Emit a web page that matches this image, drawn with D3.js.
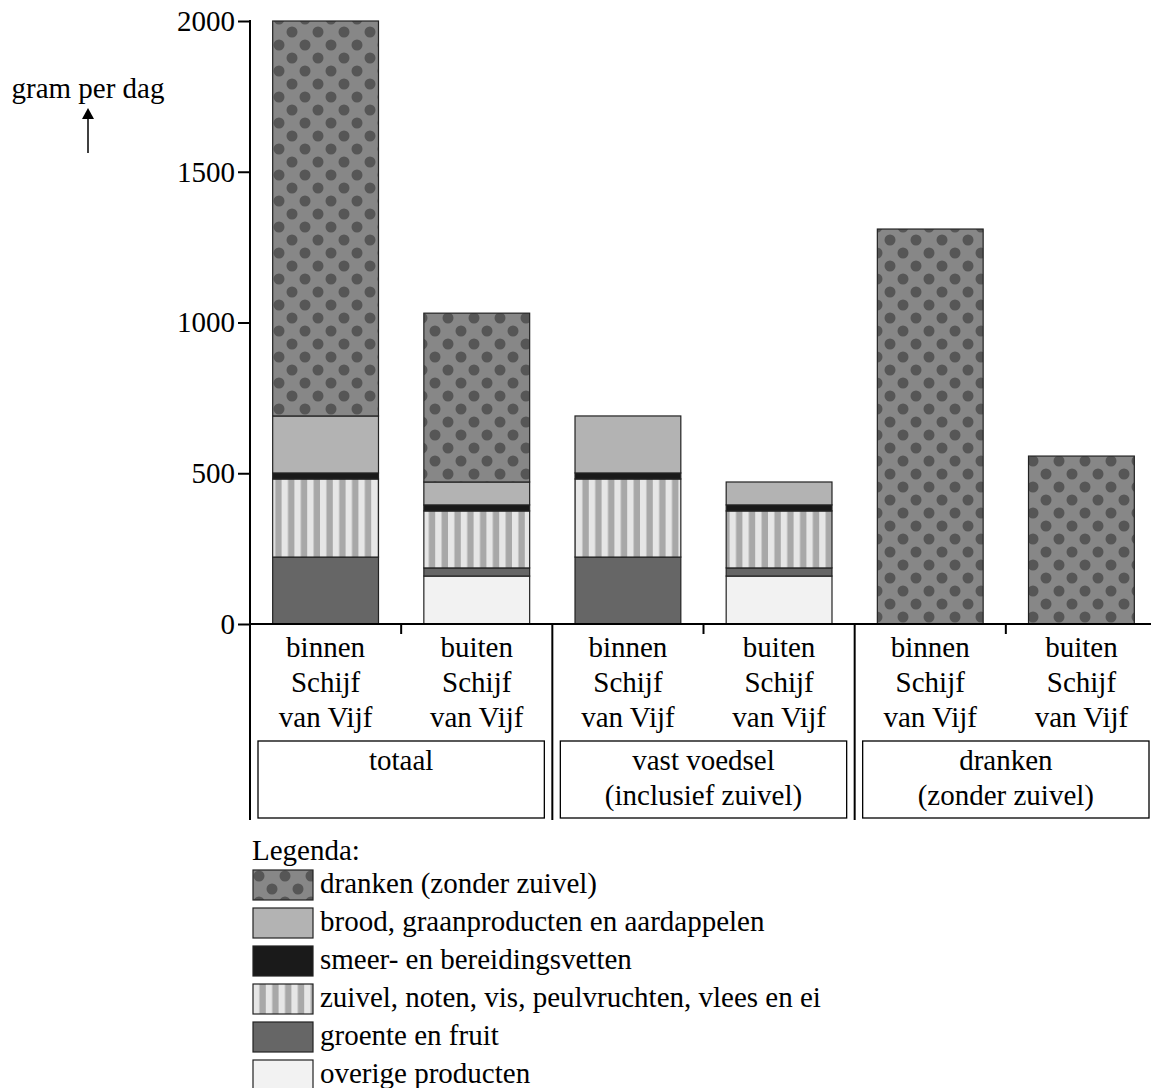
<!DOCTYPE html>
<html><head><meta charset="utf-8">
<script src="https://cdn.jsdelivr.net/npm/d3@7"></script>
<style>body{margin:0;background:#fff} svg text{font-family:'Liberation Serif','Times New Roman',serif}</style>
</head><body><div id="chart"></div>
<script>
'use strict';

// bars, left to right
const bars = ['b1', 'b2', 'b3', 'b4', 'b5', 'b6'];
const barLabels = [['binnen', 'Schijf', 'van Vijf'], ['buiten', 'Schijf', 'van Vijf']];
const groups = [['totaal'], ['vast voedsel', '(inclusief zuivel)'], ['dranken', '(zonder zuivel)']];

// stack order from bottom up
const keys = ['overige', 'groente', 'zuivel', 'vetten', 'brood', 'dranken'];
const overige = [0, 159, 0, 159, 0, 0];
const groente = [222, 27, 222, 27, 0, 0];
const zuivel = [259, 189, 259, 189, 0, 0];
const vetten = [20, 20, 20, 20, 0, 0];
const brood = [189, 76, 189, 76, 0, 0];
const dranken = [1310, 560, 0, 0, 1310, 557];

const yTicks = [0, 500, 1000, 1500, 2000];

const legendItems = [
    ['dranken', 'dranken (zonder zuivel)'],
    ['brood', 'brood, graanproducten en aardappelen'],
    ['vetten', 'smeer- en bereidingsvetten'],
    ['zuivel', 'zuivel, noten, vis, peulvruchten, vlees en ei'],
    ['groente', 'groente en fruit'],
    ['overige', 'overige producten']
];

const series = { overige, groente, zuivel, vetten, brood, dranken };
const table = bars.map((b, i) => {
    const row = { bar: b };
    keys.forEach(k => row[k] = series[k][i]);
    return row;
});

const width = 1151, height = 1088;
const fs = '29px';
const svg = d3.select('#chart').append('svg')
    .attr('width', width).attr('height', height);

const defs = svg.append('defs');
const dots = defs.append('pattern').attr('id', 'dots')
    .attr('patternUnits', 'userSpaceOnUse').attr('width', 26).attr('height', 26);
dots.append('rect').attr('width', 26).attr('height', 26).attr('fill', '#878787');
dots.append('circle').attr('cx', 6).attr('cy', 6).attr('r', 5.5).attr('fill', '#565656');
dots.append('circle').attr('cx', 19).attr('cy', 19).attr('r', 5.5).attr('fill', '#565656');
const stripes = defs.append('pattern').attr('id', 'stripes')
    .attr('patternUnits', 'userSpaceOnUse').attr('width', 12.8).attr('height', 10);
stripes.append('rect').attr('width', 12.8).attr('height', 10).attr('fill', '#e6e6e6');
stripes.append('rect').attr('x', 6.4).attr('width', 6.4).attr('height', 10).attr('fill', '#a8a8a8');

const fills = {
    overige: '#f2f2f2', groente: '#666666', zuivel: 'url(#stripes)',
    vetten: '#1a1a1a', brood: '#b3b3b3', dranken: 'url(#dots)'
};

const x = d3.scaleBand().domain(bars).range([250, 1157]).paddingInner(0.3).paddingOuter(0.15);
const y = d3.scaleLinear().domain([0, 2000]).range([624, 21]);

const stacked = d3.stack().keys(keys)(table);
svg.append('g').selectAll('g').data(stacked).join('g')
    .attr('fill', d => fills[d.key])
    .selectAll('rect').data(d => d).join('rect')
    .filter(d => d[1] > d[0])
    .attr('x', d => x(d.data.bar))
    .attr('width', x.bandwidth())
    .attr('y', d => y(d[1]))
    .attr('height', d => y(d[0]) - y(d[1]))
    .attr('stroke', '#222').attr('stroke-width', 1.2);

// y axis
const yAxis = svg.append('g').attr('transform', 'translate(250,0)')
    .call(d3.axisLeft(y).tickValues(yTicks).tickFormat(d3.format('d')).tickSize(12).tickPadding(3));
yAxis.select('.domain').remove();
yAxis.selectAll('line').attr('stroke', '#000').attr('stroke-width', 2);
yAxis.selectAll('text').style('font-size', fs).style('font-family', null).attr('fill', '#000');
svg.append('line').attr('x1', 250).attr('x2', 250).attr('y1', 20).attr('y2', 820)
    .attr('stroke', '#000').attr('stroke-width', 2);
svg.append('line').attr('x1', 250).attr('x2', 1151).attr('y1', 624).attr('y2', 624)
    .attr('stroke', '#000').attr('stroke-width', 2);

svg.append('text').attr('x', 88).attr('y', 98).attr('text-anchor', 'middle')
    .style('font-size', fs).text('gram per dag');
svg.append('line').attr('x1', 88).attr('x2', 88).attr('y1', 153).attr('y2', 114)
    .attr('stroke', '#000').attr('stroke-width', 1.5);
svg.append('path').attr('d', 'M82,119 L88,108 L94,119 Z').attr('fill', '#000');

// bar labels and separators
const step = x.step();
bars.forEach((b, i) => {
    const cx = x(b) + x.bandwidth() / 2;
    svg.append('text').attr('text-anchor', 'middle').style('font-size', fs)
        .selectAll('tspan').data(barLabels[i % 2]).join('tspan')
        .attr('x', cx).attr('y', (d, j) => 657 + j * 35).text(d => d);
    const sx = x(b) + x.bandwidth() + (step - x.bandwidth()) / 2;
    if (i % 2 === 0) {
        svg.append('line').attr('x1', sx).attr('x2', sx).attr('y1', 624).attr('y2', 634)
            .attr('stroke', '#000').attr('stroke-width', 2);
    } else if (i < bars.length - 1) {
        svg.append('line').attr('x1', sx).attr('x2', sx).attr('y1', 624).attr('y2', 820)
            .attr('stroke', '#000').attr('stroke-width', 2);
    }
});

// group boxes
groups.forEach((g, i) => {
    const left = x(bars[i * 2]) - (step - x.bandwidth()) / 2;
    const x0 = i === 0 ? 258 : left + 8;
    const x1 = left + 2 * step - 8;
    svg.append('rect').attr('x', x0).attr('y', 741).attr('width', x1 - x0).attr('height', 77)
        .attr('fill', 'none').attr('stroke', '#000').attr('stroke-width', 1.3);
    svg.append('text').attr('text-anchor', 'middle').style('font-size', fs)
        .selectAll('tspan').data(g).join('tspan')
        .attr('x', (x0 + x1) / 2).attr('y', (d, j) => 770 + j * 35).text(d => d);
});

// legend
svg.append('text').attr('x', 252).attr('y', 860).style('font-size', fs).text('Legenda:');
const lg = svg.append('g').selectAll('g').data(legendItems).join('g')
    .attr('transform', (d, i) => `translate(253,${870 + i * 38})`);
lg.append('rect').attr('width', 60).attr('height', 30)
    .attr('fill', d => fills[d[0]]).attr('stroke', '#222').attr('stroke-width', 1.2);
lg.append('text').attr('x', 67).attr('y', 23).style('font-size', fs).text(d => d[1]);
</script>
</body></html>
